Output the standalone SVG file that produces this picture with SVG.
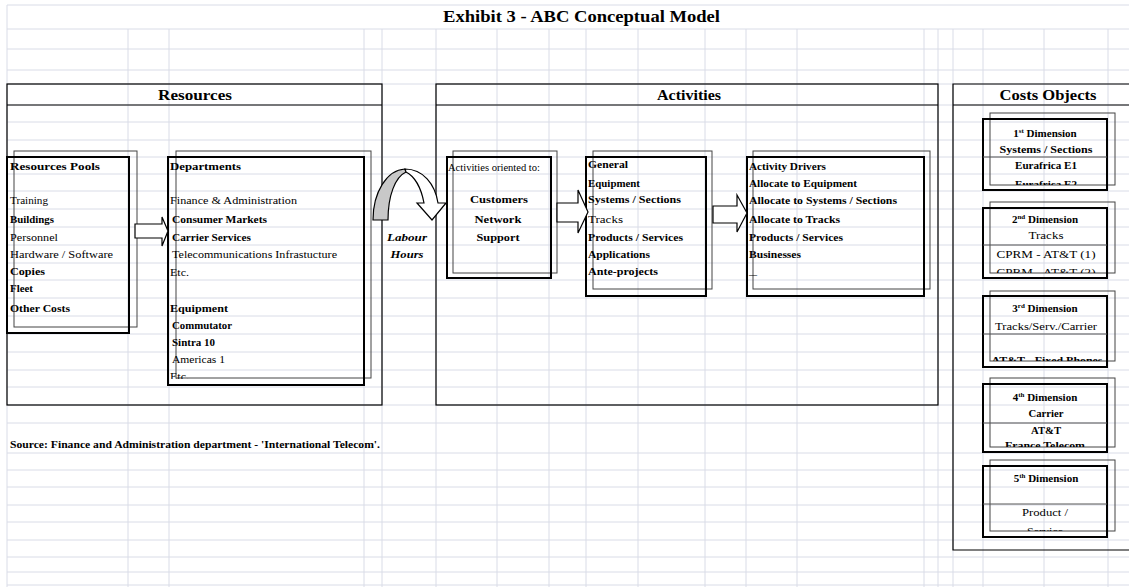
<svg xmlns="http://www.w3.org/2000/svg" width="1129" height="587" viewBox="0 0 1129 587">
  <style>
    .grid line { stroke: #d9dce7; stroke-width: 1; }
    .sec { fill: none; stroke: #000; stroke-width: 1.2; }
    .front { fill: none; stroke: #000; stroke-width: 2; }
    .back { fill: none; stroke: #444; stroke-width: 1; }
    .div { stroke: #555; stroke-width: 1; }
    .arrow { fill: #fff; stroke: #000; stroke-width: 1.2; stroke-linejoin: miter; }
    text { font-family: "Liberation Serif", "Times New Roman", serif; fill: #000; }
    .t { font-size: 11px; }
    .b { font-weight: bold; }
    .h { font-size: 15px; font-weight: bold; }
    .c { text-anchor: middle; }
    .sup { font-size: 7px; }
  </style>
  <defs>
    <clipPath id="clipE2"><rect x="985" y="170" width="125" height="15"/></clipPath>
    <clipPath id="clipC2"><rect x="985" y="258" width="125" height="15"/></clipPath>
    <clipPath id="clipAF"><rect x="985" y="346" width="125" height="15"/></clipPath>
    <clipPath id="clipFT"><rect x="985" y="432" width="125" height="15"/></clipPath>
    <clipPath id="clipSV"><rect x="985" y="516" width="125" height="15"/></clipPath>
    <clipPath id="clipEtc"><rect x="168" y="366" width="200" height="13"/></clipPath>
  </defs>

  <rect width="1129" height="587" fill="#fff"/>

  <!-- sheet gridlines -->
  <g class="grid">
    <line x1="7" y1="5" x2="1129" y2="5"/>
    <line x1="7" y1="29" x2="1129" y2="29"/>
    <line x1="7" y1="49" x2="1129" y2="49"/>
    <line x1="7" y1="70" x2="1129" y2="70"/>
    <line x1="7" y1="84" x2="1129" y2="84"/>
    <line x1="7" y1="105" x2="1129" y2="105"/>
    <line x1="7" y1="122" x2="1129" y2="122"/>
    <line x1="7" y1="140" x2="1129" y2="140"/>
    <line x1="7" y1="157" x2="1129" y2="157"/>
    <line x1="7" y1="174" x2="1129" y2="174"/>
    <line x1="7" y1="191" x2="1129" y2="191"/>
    <line x1="7" y1="209" x2="1129" y2="209"/>
    <line x1="7" y1="227" x2="1129" y2="227"/>
    <line x1="7" y1="245" x2="1129" y2="245"/>
    <line x1="7" y1="263" x2="1129" y2="263"/>
    <line x1="7" y1="280" x2="1129" y2="280"/>
    <line x1="7" y1="298" x2="1129" y2="298"/>
    <line x1="7" y1="316" x2="1129" y2="316"/>
    <line x1="7" y1="334" x2="1129" y2="334"/>
    <line x1="7" y1="352" x2="1129" y2="352"/>
    <line x1="7" y1="370" x2="1129" y2="370"/>
    <line x1="7" y1="387" x2="1129" y2="387"/>
    <line x1="7" y1="405" x2="1129" y2="405"/>
    <line x1="7" y1="423" x2="1129" y2="423"/>
    <line x1="7" y1="453" x2="1129" y2="453"/>
    <line x1="7" y1="470" x2="1129" y2="470"/>
    <line x1="7" y1="487" x2="1129" y2="487"/>
    <line x1="7" y1="505" x2="1129" y2="505"/>
    <line x1="7" y1="522" x2="1129" y2="522"/>
    <line x1="7" y1="540" x2="1129" y2="540"/>
    <line x1="7" y1="557" x2="1129" y2="557"/>
    <line x1="7" y1="572" x2="1129" y2="572"/>
    <line x1="7" y1="585" x2="1129" y2="585"/>
    <line x1="7" y1="5" x2="7" y2="587"/>
    <line x1="128" y1="29" x2="128" y2="587"/>
    <line x1="169" y1="29" x2="169" y2="587"/>
    <line x1="364" y1="29" x2="364" y2="587"/>
    <line x1="382" y1="29" x2="382" y2="587"/>
    <line x1="436" y1="29" x2="436" y2="587"/>
    <line x1="497" y1="29" x2="497" y2="587"/>
    <line x1="549" y1="29" x2="549" y2="587"/>
    <line x1="586" y1="29" x2="586" y2="587"/>
    <line x1="638" y1="29" x2="638" y2="587"/>
    <line x1="705" y1="29" x2="705" y2="587"/>
    <line x1="746" y1="29" x2="746" y2="587"/>
    <line x1="797" y1="29" x2="797" y2="587"/>
    <line x1="924" y1="29" x2="924" y2="587"/>
    <line x1="938" y1="29" x2="938" y2="587"/>
    <line x1="953" y1="29" x2="953" y2="587"/>
    <line x1="983" y1="29" x2="983" y2="587"/>
    <line x1="1044" y1="29" x2="1044" y2="587"/>
    <line x1="1108" y1="29" x2="1108" y2="587"/>
  </g>

  <!-- title and source note -->
  <text x="443" y="22" font-size="16" font-weight="bold" textLength="277" lengthAdjust="spacingAndGlyphs">Exhibit 3 - ABC Conceptual Model</text>
  <text class="t b" x="10" y="448" textLength="370" lengthAdjust="spacingAndGlyphs">Source: Finance and Administration department - 'International Telecom'.</text>

  <!-- section frames -->
  <g id="resources">
    <rect class="sec" x="7" y="84" width="375" height="321"/>
    <line class="sec" x1="7" y1="105" x2="382" y2="105"/>
    <text class="h c" x="195" y="100" textLength="74" lengthAdjust="spacingAndGlyphs">Resources</text>
  </g>
  <g id="activities">
    <rect class="sec" x="436" y="84" width="502" height="321"/>
    <line class="sec" x1="436" y1="105" x2="938" y2="105"/>
    <text class="h c" x="689" y="100" textLength="64" lengthAdjust="spacingAndGlyphs">Activities</text>
  </g>
  <g id="cost-objects">
    <path class="sec" d="M1129,84 H953 V550 H1129 M953,105 H1129"/>
    <text class="h c" x="1048" y="100" textLength="97" lengthAdjust="spacingAndGlyphs">Costs Objects</text>
  </g>

  <!-- resource pools -->
  <g id="resource-pools">
    <rect class="back" x="14" y="151" width="123" height="176"/>
    <rect class="front" x="7" y="157" width="122" height="176"/>
    <text class="t b" x="10" y="170" textLength="90" lengthAdjust="spacingAndGlyphs">Resources Pools</text>
    <text class="t" x="10" y="204" textLength="38" lengthAdjust="spacingAndGlyphs">Training</text>
    <text class="t b" x="10" y="223" textLength="44" lengthAdjust="spacingAndGlyphs">Buildings</text>
    <text class="t" x="10" y="241" textLength="48" lengthAdjust="spacingAndGlyphs">Personnel</text>
    <text class="t" x="10" y="258" textLength="103" lengthAdjust="spacingAndGlyphs">Hardware / Software</text>
    <text class="t b" x="10" y="275" textLength="35" lengthAdjust="spacingAndGlyphs">Copies</text>
    <text class="t b" x="10" y="292" textLength="23" lengthAdjust="spacingAndGlyphs">Fleet</text>
    <text class="t b" x="10" y="312" textLength="60" lengthAdjust="spacingAndGlyphs">Other Costs</text>
  </g>

  <!-- departments and equipment -->
  <g id="departments">
    <rect class="back" x="176" y="151" width="195" height="227"/>
    <rect class="front" x="168" y="157" width="196" height="228"/>
    <text class="t b" x="170" y="170" textLength="71" lengthAdjust="spacingAndGlyphs">Departments</text>
    <text class="t" x="170" y="204" textLength="127" lengthAdjust="spacingAndGlyphs">Finance &amp; Administration</text>
    <text class="t b" x="172" y="223" textLength="95" lengthAdjust="spacingAndGlyphs">Consumer Markets</text>
    <text class="t b" x="172" y="241" textLength="79" lengthAdjust="spacingAndGlyphs">Carrier Services</text>
    <text class="t" x="172" y="258" textLength="165" lengthAdjust="spacingAndGlyphs">Telecommunications Infrastucture</text>
    <text class="t" x="170" y="276" textLength="19" lengthAdjust="spacingAndGlyphs">Etc.</text>
    <text class="t b" x="170" y="312" textLength="58" lengthAdjust="spacingAndGlyphs">Equipment</text>
    <text class="t b" x="172" y="329" textLength="60" lengthAdjust="spacingAndGlyphs">Commutator</text>
    <text class="t b" x="172" y="346" textLength="43" lengthAdjust="spacingAndGlyphs">Sintra 10</text>
    <text class="t" x="172" y="363" textLength="53" lengthAdjust="spacingAndGlyphs">Americas 1</text>
    <text class="t" x="170" y="380" textLength="19" lengthAdjust="spacingAndGlyphs" clip-path="url(#clipEtc)">Etc.</text>
  </g>

  <!-- orientation of activities -->
  <g id="activities-oriented">
    <rect class="back" x="453" y="151" width="104" height="122"/>
    <rect class="front" x="447" y="157" width="104" height="121"/>
    <text x="448" y="171" font-size="9.5" textLength="92" lengthAdjust="spacingAndGlyphs">Activities oriented to:</text>
    <text class="t b c" x="499" y="203" textLength="58" lengthAdjust="spacingAndGlyphs">Customers</text>
    <text class="t b c" x="498" y="223" textLength="47" lengthAdjust="spacingAndGlyphs">Network</text>
    <text class="t b c" x="498" y="241" textLength="43" lengthAdjust="spacingAndGlyphs">Support</text>
  </g>

  <!-- activity categories -->
  <g id="general">
    <rect class="back" x="593" y="151" width="119" height="138"/>
    <rect class="front" x="586" y="157" width="120" height="139"/>
    <text class="t b" x="588" y="168" textLength="40" lengthAdjust="spacingAndGlyphs">General</text>
    <text class="t b" x="588" y="187" textLength="52" lengthAdjust="spacingAndGlyphs">Equipment</text>
    <text class="t b" x="588" y="203" textLength="93" lengthAdjust="spacingAndGlyphs">Systems / Sections</text>
    <text class="t" x="588" y="223" textLength="35" lengthAdjust="spacingAndGlyphs">Tracks</text>
    <text class="t b" x="588" y="241" textLength="95" lengthAdjust="spacingAndGlyphs">Products / Services</text>
    <text class="t b" x="588" y="258" textLength="62" lengthAdjust="spacingAndGlyphs">Applications</text>
    <text class="t b" x="588" y="275" textLength="70" lengthAdjust="spacingAndGlyphs">Ante-projects</text>
  </g>

  <!-- activity drivers -->
  <g id="activity-drivers">
    <rect class="back" x="753" y="151" width="177" height="138"/>
    <rect class="front" x="747" y="157" width="177" height="139"/>
    <text class="t b" x="749" y="170" textLength="77" lengthAdjust="spacingAndGlyphs">Activity Drivers</text>
    <text class="t b" x="749" y="187" textLength="108" lengthAdjust="spacingAndGlyphs">Allocate to Equipment</text>
    <text class="t b" x="749" y="204" textLength="148" lengthAdjust="spacingAndGlyphs">Allocate to Systems / Sections</text>
    <text class="t b" x="749" y="223" textLength="91" lengthAdjust="spacingAndGlyphs">Allocate to Tracks</text>
    <text class="t b" x="749" y="241" textLength="94" lengthAdjust="spacingAndGlyphs">Products / Services</text>
    <text class="t b" x="749" y="258" textLength="52" lengthAdjust="spacingAndGlyphs">Businesses</text>
    <text class="t" x="749" y="278" textLength="8" lengthAdjust="spacingAndGlyphs">–</text>
  </g>

  <!-- cost object dimensions -->
  <g id="dimension-1">
    <rect class="back" x="990" y="113" width="125" height="72"/>
    <rect class="front" x="983" y="119" width="124" height="71"/>
    <line class="div" x1="983" y1="157" x2="1107" y2="157"/>
    <text class="t b c" x="1045" y="137">1<tspan class="sup" dy="-4">st</tspan><tspan dy="4"> Dimension</tspan></text>
    <text class="t b c" x="1046" y="153" textLength="93" lengthAdjust="spacingAndGlyphs">Systems / Sections</text>
    <text class="t b c" x="1046" y="169" textLength="62" lengthAdjust="spacingAndGlyphs">Eurafrica E1</text>
    <text class="t b c" x="1046" y="188" textLength="62" lengthAdjust="spacingAndGlyphs" clip-path="url(#clipE2)">Eurafrica E2</text>
  </g>
  <g id="dimension-2">
    <rect class="back" x="990" y="202" width="125" height="71"/>
    <rect class="front" x="983" y="208" width="124" height="70"/>
    <line class="div" x1="983" y1="245" x2="1107" y2="245"/>
    <text class="t b c" x="1045" y="223">2<tspan class="sup" dy="-4">nd</tspan><tspan dy="4"> Dimension</tspan></text>
    <text class="t c" x="1046" y="239" textLength="35" lengthAdjust="spacingAndGlyphs">Tracks</text>
    <text class="t c" x="1046" y="258" textLength="99" lengthAdjust="spacingAndGlyphs">CPRM - AT&amp;T (1)</text>
    <text class="t c" x="1046" y="276" textLength="99" lengthAdjust="spacingAndGlyphs" clip-path="url(#clipC2)">CPRM - AT&amp;T (2)</text>
  </g>
  <g id="dimension-3">
    <rect class="back" x="990" y="291" width="125" height="70"/>
    <rect class="front" x="983" y="296" width="124" height="71"/>
    <line class="div" x1="983" y1="334" x2="1107" y2="334"/>
    <text class="t b c" x="1045" y="312">3<tspan class="sup" dy="-4">rd</tspan><tspan dy="4"> Dimension</tspan></text>
    <text class="t c" x="1046" y="330" textLength="102" lengthAdjust="spacingAndGlyphs">Tracks/Serv./Carrier</text>
    <text class="t b c" x="1047" y="364" textLength="111" lengthAdjust="spacingAndGlyphs" clip-path="url(#clipAF)">AT&amp;T - Fixed Phones</text>
  </g>
  <g id="dimension-4">
    <rect class="back" x="990" y="378" width="125" height="69"/>
    <rect class="front" x="983" y="384" width="124" height="68"/>
    <line class="div" x1="983" y1="423" x2="1107" y2="423"/>
    <text class="t b c" x="1045" y="401">4<tspan class="sup" dy="-4">th</tspan><tspan dy="4"> Dimension</tspan></text>
    <text class="t b c" x="1046" y="417" textLength="35" lengthAdjust="spacingAndGlyphs">Carrier</text>
    <text class="t b c" x="1046" y="434" textLength="30" lengthAdjust="spacingAndGlyphs">AT&amp;T</text>
    <text class="t b c" x="1045" y="449" textLength="80" lengthAdjust="spacingAndGlyphs" clip-path="url(#clipFT)">France Telecom</text>
  </g>
  <g id="dimension-5">
    <rect class="back" x="990" y="460" width="125" height="71"/>
    <rect class="front" x="983" y="466" width="124" height="71"/>
    <line class="div" x1="983" y1="504" x2="1107" y2="504"/>
    <text class="t b c" x="1046" y="482">5<tspan class="sup" dy="-4">th</tspan><tspan dy="4"> Dimension</tspan></text>
    <text class="t c" x="1045" y="516" textLength="46" lengthAdjust="spacingAndGlyphs">Product /</text>
    <text class="t c" x="1045" y="535" textLength="36" lengthAdjust="spacingAndGlyphs" clip-path="url(#clipSV)">Service</text>
  </g>

  <!-- connectors -->
  <g id="connectors">
    <path class="arrow" d="M135,224 H162 V217 L168,231 L162,246 V238 H135 Z"/>
    <path d="M373,220 C373,192 387,170 405,169 L406,172 C395,177 388,196 388,220 Z" fill="#c8c8c8" stroke="#000" stroke-width="1.2"/>
    <path class="arrow" d="M405,169 C423,169 435,184 438,203 L446,203 L432,220 L417,203 L424,203 C421,187 414,176 406,172 Z"/>
    <path class="arrow" d="M557,203 H578 V190 L588,212 L578,233 V222 H557 Z"/>
    <path class="arrow" d="M713,206 H737 V195 L747,213 L737,232 V223 H713 Z"/>
  </g>

  <!-- effort driver between resources and activities -->
  <g id="labour-hours">
    <text class="t b c" x="407" y="241" font-style="italic" textLength="40" lengthAdjust="spacingAndGlyphs">Labour</text>
    <text class="t b c" x="407" y="258" font-style="italic" textLength="33" lengthAdjust="spacingAndGlyphs">Hours</text>
  </g>
</svg>
